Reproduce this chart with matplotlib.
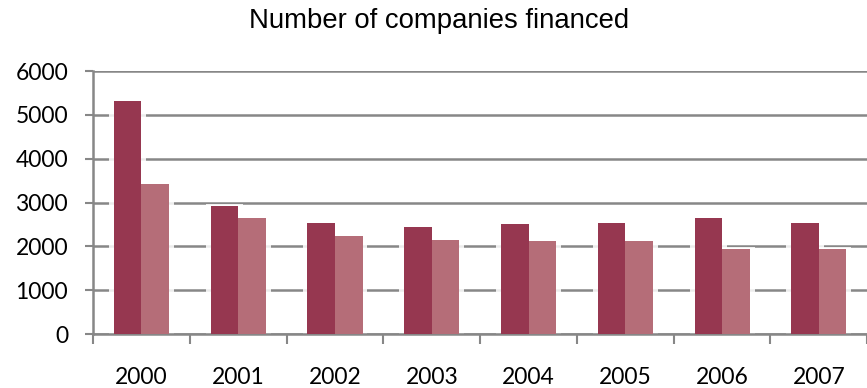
import matplotlib
matplotlib.use("Agg")
import matplotlib.pyplot as plt
import numpy as np
from matplotlib.patches import Rectangle

years = ["2000", "2001", "2002", "2003", "2004", "2005", "2006", "2007"]
series_a = [5310, 2930, 2525, 2435, 2500, 2525, 2640, 2525]
series_b = [3420, 2640, 2235, 2145, 2115, 2115, 1940, 1940]

dark = "#963750"
light = "#b56d78"
grid_c = "#878787"

fig = plt.figure(figsize=(8.67, 3.88), dpi=100)
ax = fig.add_axes([0.1073, 0.139, 0.893, 0.678])

x = np.arange(len(years))
w = 0.285

# soft glow/shadow behind the bars, hides the grid close to them
for xi, a, b in zip(x, series_a, series_b):
    ax.add_patch(Rectangle((xi - w - 0.05, 0), w + 0.1, a + 45,
                           color="white", alpha=0.85, zorder=2, lw=0))
    ax.add_patch(Rectangle((xi - 0.05, 0), w + 0.1, b + 45,
                           color="white", alpha=0.85, zorder=2, lw=0))
    ax.add_patch(Rectangle((xi - w + 0.02, -70), 2 * w, 70,
                           color="#d0d0d0", alpha=0.6, zorder=2, lw=0))

ax.bar(x - w / 2, series_a, w, color=dark, zorder=3)
ax.bar(x + w / 2, series_b, w, color=light, zorder=3)

ax.set_xlim(-0.5, 7.5)
ax.set_ylim(0, 6000)
ax.set_yticks(range(0, 6001, 1000))
ax.yaxis.grid(True, color=grid_c, lw=1.8, zorder=1)
ax.set_axisbelow(True)

ax.set_xticks(np.arange(-0.5, 8, 1))
ax.set_xticklabels([])
ax.set_xticks(x, minor=True)
ax.set_xticklabels(years, minor=True)
ax.tick_params(axis="x", which="major", length=7, width=1.5, color=grid_c, direction="out")
ax.tick_params(axis="x", which="minor", length=0, pad=24)
ax.tick_params(axis="y", length=6, width=1.5, color=grid_c, pad=12)

for lab in ax.get_xticklabels(minor=True) + ax.get_yticklabels():
    lab.set_fontfamily("Lato")
    lab.set_fontsize(16.5)

for s in ["top", "right"]:
    ax.spines[s].set_visible(False)
for s in ["left", "bottom"]:
    ax.spines[s].set_color(grid_c)
    ax.spines[s].set_linewidth(1.8)

fig.text(0.506, 0.945, "Number of companies financed", ha="center", va="center",
         fontsize=19.8, fontfamily="Liberation Sans")

fig.savefig("out.png", dpi=100)
